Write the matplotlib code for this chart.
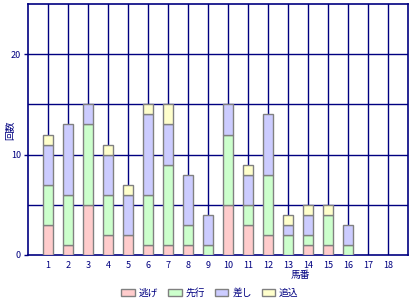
import numpy as np
import matplotlib.pyplot as plt

plt.rcParams['font.family'] = ['Noto Sans CJK JP', 'DejaVu Sans']

umaban = [str(i) for i in range(1, 19)]
nige = [3, 1, 5, 2, 2, 1, 1, 1, 0, 5, 3, 2, 0, 1, 1, 0, 0, 0]
senkou = [4, 5, 8, 4, 0, 5, 8, 2, 1, 7, 2, 6, 2, 1, 3, 1, 0, 0]
sashi = [4, 7, 2, 4, 4, 8, 4, 5, 3, 3, 3, 6, 1, 2, 0, 2, 0, 0]
oikomi = [1, 0, 0, 1, 1, 1, 2, 0, 0, 0, 1, 0, 1, 1, 1, 0, 0, 0]
series = [("逃げ", nige, "#ffcccc"), ("先行", senkou, "#ccffcc"),
          ("差し", sashi, "#ccccff"), ("追込", oikomi, "#ffffcc")]

navy = "#000080"
fig = plt.figure(figsize=(4.2, 3), dpi=100)
ax = fig.add_axes([28 / 420, 45 / 300, 380 / 420, 251 / 300])

x = np.arange(1, 19)
bottom = np.zeros(18)
handles = []
for name, vals, col in series:
    vals = np.array(vals)
    mask = vals > 0
    ax.bar(x[mask], vals[mask], bottom=bottom[mask], width=0.5, color=col,
           edgecolor="#808080", linewidth=1, zorder=3)
    handles.append(plt.Rectangle((0, 0), 1, 1, facecolor=col, edgecolor="#808080"))
    bottom += vals

ax.set_xlim(0, 19)
ax.set_ylim(0, 25)
for v in x:
    ax.axvline(v, color=navy, lw=1, zorder=1)
for v in [5, 10, 15, 20]:
    ax.axhline(v, color=navy, lw=1, zorder=1)
ax.set_xticks(x)
ax.set_xticklabels(umaban)
ax.set_yticks([0, 10, 20])
ax.tick_params(axis="x", length=0, labelsize=6.5, labelcolor=navy, pad=4)
ax.tick_params(axis="y", length=3, width=1, color=navy, labelsize=6.5,
               labelcolor=navy, pad=2)
for s in ax.spines.values():
    s.set_color(navy)
    s.set_linewidth(1.2)

fig.text(5 / 420, 1 - 130 / 300, "回数", rotation=90, ha="left", va="center",
         fontsize=7, color=navy)
fig.text(310 / 420, 1 - 275 / 300, "馬番", ha="right", va="center",
         fontsize=7, color=navy)
leg = fig.legend(handles, [s[0] for s in series], loc="center",
                 bbox_to_anchor=(210 / 420, 1 - 293 / 300), ncol=4, frameon=False,
                 fontsize=7, handlelength=1.4, handleheight=0.8, columnspacing=1.0,
                 handletextpad=0.4)
for t in leg.get_texts():
    t.set_color(navy)

fig.savefig("out.png", dpi=100)
